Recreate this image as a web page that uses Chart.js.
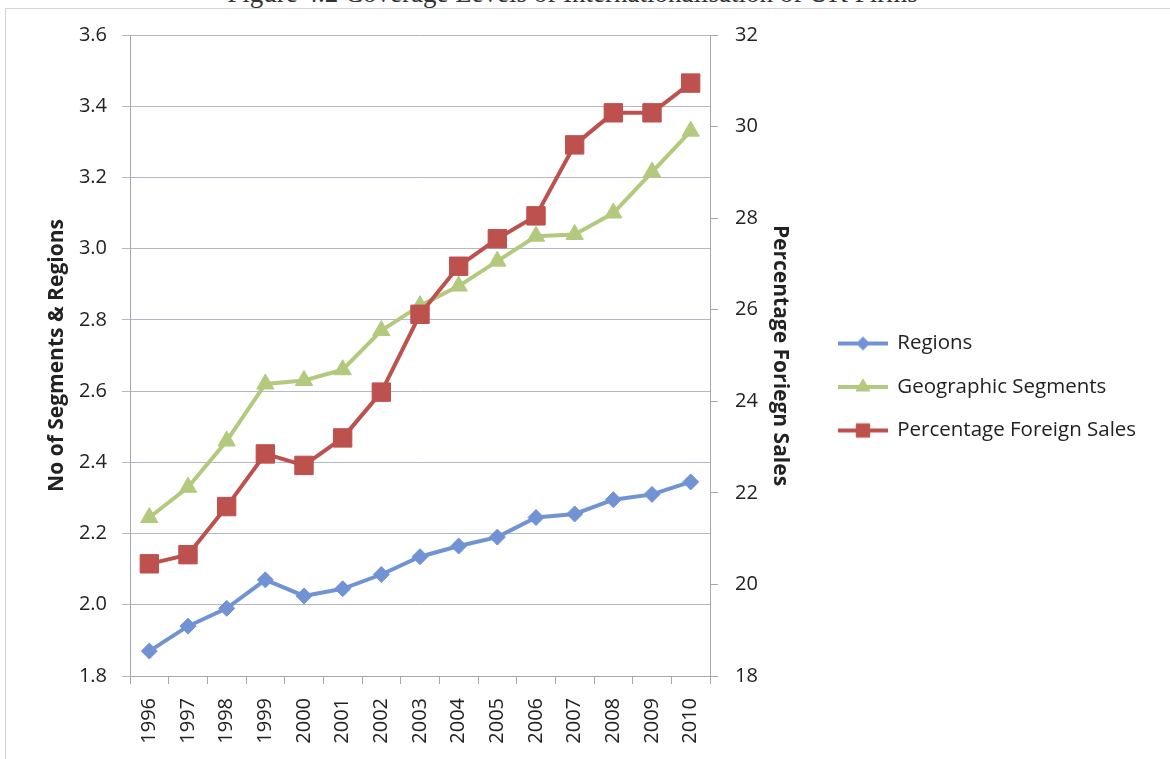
<!DOCTYPE html>
<html>
<head>
<meta charset="utf-8">
<script src="https://cdn.jsdelivr.net/npm/chart.js@4.4.1/dist/chart.umd.min.js"></script>
<style>
  html, body { margin: 0; padding: 0; background: #ffffff; overflow: hidden; }
  #page { position: relative; width: 1170px; height: 759px; overflow: hidden; background: #ffffff; }
  #frame { position: absolute; left: 5px; top: 8px; width: 1300px; height: 900px; border: 1px solid #d2d4d8; box-sizing: border-box; }
  #caption { position: absolute; left: 0; width: 1145px; top: -20px; text-align: center;
             font-family: "Liberation Serif", "DejaVu Serif", serif; font-size: 27px; line-height: 27px; color: #333; white-space: nowrap; }
  #chart { position: absolute; left: 0; top: 0; }
</style>
</head>
<body>
<div id="page">
  <div id="caption">Figure 4.2 Coverage Levels of Internationalisation of UK Firms</div>
  <div id="frame"></div>
  <canvas id="chart" width="1170" height="759"></canvas>
</div>
<script>
// Years on the category axis
const years = ['1996', '1997', '1998', '1999', '2000', '2001', '2002', '2003',
               '2004', '2005', '2006', '2007', '2008', '2009', '2010'];

// Average number of regions per firm (left axis)
const regions = [1.87, 1.94, 1.99, 2.07, 2.025, 2.045, 2.085, 2.135,
                 2.165, 2.19, 2.245, 2.255, 2.295, 2.31, 2.345];

// Average number of geographic segments per firm (left axis)
const geoSegments = [2.245, 2.33, 2.46, 2.62, 2.63, 2.66, 2.77, 2.84,
                     2.895, 2.965, 3.035, 3.04, 3.10, 3.215, 3.33];

// Percentage of sales made abroad (right axis)
const foreignSales = [20.45, 20.65, 21.7, 22.85, 22.6, 23.2, 24.2, 25.9,
                      26.95, 27.55, 28.05, 29.6, 30.3, 30.3, 30.95];

// Axis ranges and tick steps
const leftAxisRange = [1.8, 3.6, 0.2];
const rightAxisRange = [18, 32, 2];

const seriesNames = ['Regions', 'Geographic Segments', 'Percentage Foreign Sales'];
const axisTitles = ['No of Segments & Regions', 'Percentage Foriegn Sales'];

const BLUE = '#7293d3';
const GREEN = '#b3c97e';
const RED = '#bd514d';
const GRID = '#b4b8c2';
const AXIS = '#a3a8b2';
const TEXT = '#222222';

Chart.defaults.font.family = '"Open Sans", "Noto Sans", sans-serif';
Chart.defaults.color = TEXT;

// Legend swatch: a short line with the series marker in the middle
function legendSwatch(color, style, radius) {
  const c = document.createElement('canvas');
  c.width = 50; c.height = 22;
  const ctx = c.getContext('2d');
  ctx.strokeStyle = color;
  ctx.lineWidth = 4;
  ctx.beginPath();
  ctx.moveTo(0, 11); ctx.lineTo(50, 11);
  ctx.stroke();
  ctx.fillStyle = color;
  ctx.lineWidth = 1;
  Chart.helpers.drawPoint(ctx, { pointStyle: style, radius: radius, rotation: 0, borderWidth: 1 }, 25, 11);
  return c;
}

const swatches = [
  legendSwatch(BLUE, 'rectRot', 6.5),
  legendSwatch(GREEN, 'triangle', 8),
  legendSwatch(RED, 'rect', 9.5)
];

const chart = new Chart(document.getElementById('chart'), {
  type: 'line',
  data: {
    labels: years,
    datasets: [
      {
        label: seriesNames[0], data: regions, yAxisID: 'y', order: 3,
        borderColor: BLUE, backgroundColor: BLUE, borderWidth: 4,
        pointStyle: 'rectRot', pointRadius: 8, pointBorderWidth: 1, pointHoverRadius: 8
      },
      {
        label: seriesNames[1], data: geoSegments, yAxisID: 'y', order: 2,
        borderColor: GREEN, backgroundColor: GREEN, borderWidth: 4,
        pointStyle: 'triangle', pointRadius: 10, pointBorderWidth: 1, pointHoverRadius: 10
      },
      {
        label: seriesNames[2], data: foreignSales, yAxisID: 'y2', order: 1,
        borderColor: RED, backgroundColor: RED, borderWidth: 4,
        pointStyle: 'rect', pointRadius: 13, pointBorderWidth: 1, pointHoverRadius: 13
      }
    ]
  },
  options: {
    responsive: false,
    animation: false,
    devicePixelRatio: 1,
    layout: { padding: { left: 0, right: 28, top: 28, bottom: 13 } },
    plugins: {
      tooltip: { enabled: false },
      // empty spacer above the plot so the plot top sits below the outer padding
      title: { display: true, text: '', font: { size: 5 }, padding: { top: 1, bottom: 0 } },
      legend: {
        position: 'right',
        align: 'center',
        maxWidth: 326,
        labels: {
          usePointStyle: true,
          pointStyleWidth: 48,
          padding: 23,
          color: TEXT,
          font: { size: 20.5 },
          generateLabels: (ch) => ch.data.datasets.map((ds, i) => ({
            text: ds.label,
            pointStyle: swatches[i],
            fillStyle: ds.borderColor,
            strokeStyle: ds.borderColor,
            lineWidth: 0,
            hidden: false,
            datasetIndex: i,
            fontColor: TEXT
          }))
        }
      }
    },
    scales: {
      x: {
        type: 'category',
        offset: true,
        grid: { offset: true, drawOnChartArea: false, drawTicks: true, tickLength: 8, color: AXIS },
        border: { color: AXIS, width: 1 },
        ticks: { autoSkip: false, minRotation: 90, maxRotation: 90, padding: 14, font: { size: 20 }, color: TEXT },
        afterFit: (s) => { s.height = 70; }
      },
      y: {
        position: 'left',
        min: leftAxisRange[0], max: leftAxisRange[1],
        grid: { color: GRID, tickLength: 8, drawTicks: true },
        border: { color: AXIS, width: 1 },
        ticks: {
          stepSize: leftAxisRange[2], padding: 15, font: { size: 20 }, color: TEXT,
          callback: (v) => Number(v).toFixed(1)
        },
        title: {
          display: true, text: axisTitles[0], color: TEXT,
          font: { size: 21, weight: 'bold' }, padding: { top: 44, bottom: 0 }
        },
        afterFit: (s) => { s.width = 130; }
      },
      y2: {
        position: 'right',
        min: rightAxisRange[0], max: rightAxisRange[1],
        grid: { drawOnChartArea: false, tickLength: 8, color: AXIS },
        border: { color: AXIS, width: 1 },
        ticks: { stepSize: rightAxisRange[2], padding: 17, font: { size: 20 }, color: TEXT },
        title: {
          display: true, text: axisTitles[1], color: TEXT,
          font: { size: 21, weight: 'bold' }, padding: { top: 23, bottom: 0 }
        },
        afterFit: (s) => { s.width = 106; }
      }
    }
  }
});
</script>
</body>
</html>
